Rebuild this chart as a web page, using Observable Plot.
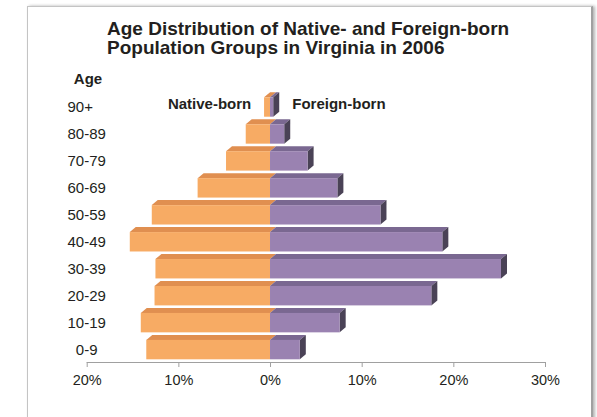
<!DOCTYPE html>
<html><head><meta charset="utf-8">
<script src="https://cdn.jsdelivr.net/npm/d3@7"></script>
<script src="https://cdn.jsdelivr.net/npm/@observablehq/plot@0.6"></script>
<style>
html,body{margin:0;padding:0;background:#fff;width:597px;height:417px;overflow:hidden;font-family:"Liberation Sans",Arial,sans-serif;}
#frame{position:absolute;left:27px;top:6px;width:563px;height:440px;border:1px solid #c4c4c4;border-right:2px solid #a0a0a0;border-bottom:none;box-shadow:2px 0 3px rgba(0,0,0,0.3);background:#fff;}
#title{position:absolute;left:107px;top:19.4px;font-size:19px;font-weight:bold;line-height:19px;color:#231f20;white-space:nowrap;}
#chart{position:absolute;left:0;top:60px;}
#chart svg text{fill:#231f20;}
</style></head>
<body>
<div id="frame"></div>
<div id="title">Age Distribution of Native- and Foreign-born<br>Population Groups in Virginia in 2006</div>
<div id="chart"></div>
<script>
const ages = ["0-9","10-19","20-29","30-39","40-49","50-59","60-69","70-79","80-89","90+"];
const nativeBorn = [13.5, 14.1, 12.6, 12.5, 15.3, 12.9, 7.9, 4.8, 2.65, 0.65];
const foreignBorn = [3.25, 7.6, 17.6, 25.2, 18.8, 12.05, 7.35, 4.1, 1.55, 0.35];
const xTicks = [-20, -10, 0, 10, 20, 30];
const groups = ["Native-born", "Foreign-born"];
const axisTitle = "Age";

const rows = ages.map((age, i) => ({age, native: nativeBorn[i], foreign: foreignBorn[i]}));

const DX = 6, DY = 5;
const C = {
  nativeFront: "#f7ab64", nativeTop: "#e08f50",
  foreignFront: "#9a82b1", foreignTop: "#7a6891", foreignSide: "#4a4256"
};

function faces(getX, topFill, sideFill) {
  return (index, scales, values, dimensions, context) => {
    const g = d3.create("svg:g");
    const bw = scales.y.bandwidth();
    for (const d of rows) {
      const y0 = scales.y(d.age);
      const xa = scales.x(0), xb = scales.x(getX(d));
      const l = Math.min(xa, xb), r = Math.max(xa, xb);
      g.append("path")
        .attr("d", `M${l},${y0}L${r},${y0}L${r + DX},${y0 - DY}L${l + DX},${y0 - DY}Z`)
        .attr("fill", topFill);
      if (sideFill) {
        g.append("path")
          .attr("d", `M${r},${y0}L${r + DX},${y0 - DY}L${r + DX},${y0 + bw - DY}L${r},${y0 + bw}Z`)
          .attr("fill", sideFill);
      }
    }
    return g.node();
  };
}

const chart = Plot.plot({
  width: 597,
  height: 357,
  marginLeft: 86.7,
  marginRight: 52,
  marginTop: 34.6,
  marginBottom: 55,
  style: {fontSize: "14.5px", fontFamily: "'Liberation Sans', Arial, sans-serif", color: "#a0a0a0", background: "transparent", overflow: "visible"},
  x: {domain: [-20, 30], ticks: xTicks, tickFormat: d => Math.abs(d) + "%", tickSize: 5, tickPadding: 7, line: true, label: null},
  y: {domain: ages.slice().reverse(), paddingInner: 0.28, paddingOuter: 0.1, round: false, axis: null},
  marks: [
    faces(d => -d.native, C.nativeTop, null),
    faces(d => d.foreign, C.foreignTop, C.foreignSide),
    Plot.barX(rows, {y: "age", x1: 0, x2: d => -d.native, fill: C.nativeFront}),
    Plot.barX(rows, {y: "age", x1: 0, x2: "foreign", fill: C.foreignFront}),
    Plot.text(ages, {y: d => d, text: d => d === "0-9" ? "\u2007" + d : d, frameAnchor: "left", textAnchor: "start", dx: -19.7, fontSize: 15}),
    Plot.text([groups[0]], {x: () => 0, y: () => ages[ages.length - 1], text: d => d, textAnchor: "end", dx: -19.3, dy: -3.5, fontWeight: "bold", fontSize: 15}),
    Plot.text([groups[1]], {x: () => 0, y: () => ages[ages.length - 1], text: d => d, textAnchor: "start", dx: 21.7, dy: -3.5, fontWeight: "bold", fontSize: 15}),
    Plot.text([axisTitle], {frameAnchor: "top-left", lineAnchor: "middle", textAnchor: "start", dx: -13.4, dy: -15.8, fontWeight: "bold", fontSize: 15})
  ]
});
document.getElementById("chart").appendChild(chart);
</script>
</body></html>
